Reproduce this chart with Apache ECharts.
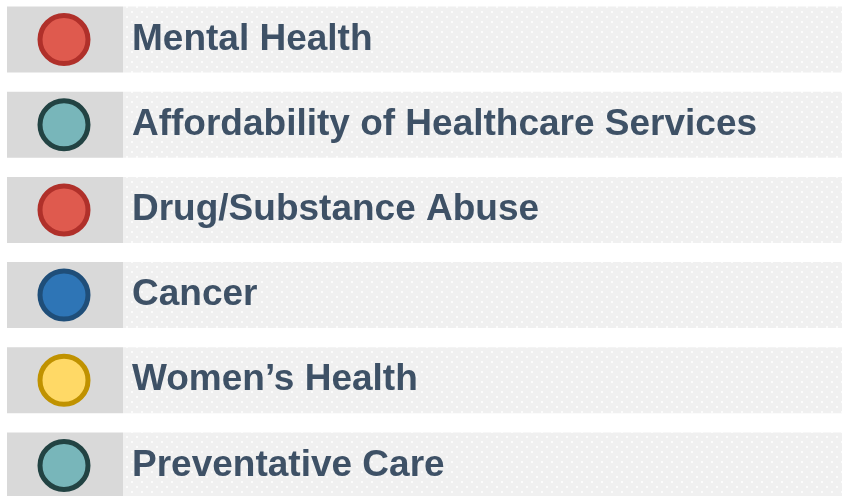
<!DOCTYPE html>
<html>
<head>
<meta charset="utf-8">
<script src="https://cdn.jsdelivr.net/npm/echarts@6/dist/echarts.min.js"></script>
<style>
html, body { margin: 0; padding: 0; background: #fff; }
#chart { width: 842px; height: 496px; }
</style>
</head>
<body>
<div id="chart"></div>
<script>
// topics, top to bottom
var topics = [
  'Mental Health',
  'Affordability of Healthcare Services',
  'Drug/Substance Abuse',
  'Cancer',
  'Women\u2019s Health',
  'Preventative Care'
]
// dot colour of each topic
var dotKinds = ['red', 'teal', 'red', 'blue', 'yellow', 'teal']

var palette = {
  red: { fill: '#df5a4e', border: '#b0302a' },
  teal: { fill: '#78b6ba', border: '#224343' },
  blue: { fill: '#2e75b6', border: '#1f4e79' },
  yellow: { fill: '#ffd966', border: '#c09200' }
}

// dotted background tile
var tile = document.createElement('canvas')
tile.width = 10
tile.height = 10
var ctx = tile.getContext('2d')
ctx.fillStyle = '#f0f0f0'
ctx.fillRect(0, 0, 10, 10)
ctx.fillStyle = '#fbfbfb'
ctx.fillRect(1, 1, 2, 2)
ctx.fillRect(6, 6, 2, 2)

var option = {
  animation: false,
  grid: { left: 0, right: 0, top: -3, height: 511, outerBoundsMode: 'none' },
  xAxis: { type: 'value', min: 0, max: 842, show: false },
  yAxis: { type: 'category', data: topics, inverse: true, show: false },
  series: [
    {
      type: 'bar',
      stack: 'row',
      silent: true,
      barWidth: 66,
      itemStyle: { color: 'rgba(0,0,0,0)' },
      data: topics.map(function() { return 7 })
    },
    {
      type: 'bar',
      stack: 'row',
      silent: true,
      barWidth: 66,
      itemStyle: { color: '#d9d9d9' },
      data: topics.map(function() { return 116 })
    },
    {
      type: 'bar',
      stack: 'row',
      silent: true,
      barWidth: 66,
      itemStyle: { color: { image: tile, repeat: 'repeat' } },
      label: {
        show: true,
        position: 'insideLeft',
        distance: 9,
        formatter: function(p) { return p.name },
        color: '#3e5166',
        fontFamily: 'Liberation Sans',
        fontWeight: 'bold',
        fontSize: 37
      },
      data: topics.map(function() { return 719 })
    },
    {
      type: 'scatter',
      silent: true,
      symbol: 'circle',
      symbolSize: 48,
      z: 5,
      data: topics.map(function(t, i) {
        var c = palette[dotKinds[i]]
        return {
          value: [64, t],
          itemStyle: { color: c.fill, borderColor: c.border, borderWidth: 5, opacity: 1 }
        }
      })
    }
  ]
}

var chart = echarts.init(document.getElementById('chart'))
chart.setOption(option)
</script>
</body>
</html>
